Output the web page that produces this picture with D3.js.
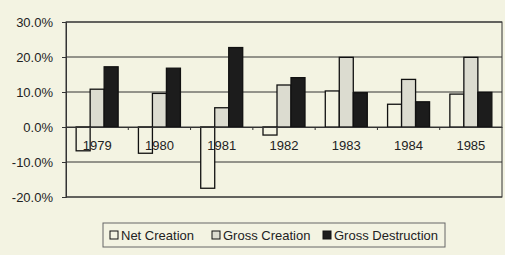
<!DOCTYPE html>
<html lang="en">
<head>
<meta charset="utf-8" />
<title>Job creation and destruction</title>
<script src="https://d3js.org/d3.v7.min.js"></script>
<style>
  body { margin: 0; background: #f3f3e2; }
  svg { display: block; }
</style>
</head>
<body>
<svg></svg>
<script>
  let width = 505,
      height = 255;

  // data
  var years = ["1979", "1980", "1981", "1982", "1983", "1984", "1985"];
  var netCreation = [-6.8, -7.5, -17.5, -2.3, 10.3, 6.5, 9.4];
  var grossCreation = [10.8, 9.6, 5.5, 12.0, 19.9, 13.6, 19.9];
  var grossDestruction = [17.2, 16.8, 22.7, 14.1, 9.8, 7.2, 9.9];
  var yTicks = [30, 20, 10, 0, -10, -20];
  var seriesNames = ["Net Creation", "Gross Creation", "Gross Destruction"];
  var seriesFill = ["#f3f3e2", "#dcdcd0", "#1c1c1c"];

  let series = [netCreation, grossCreation, grossDestruction];

  let svg = d3.select("svg").attr("width", width).attr("height", height);
  svg.append("rect").attr("width", width).attr("height", height).attr("fill", "#f3f3e2");

  let plotLeft = 66, plotRight = 502, plotTop = 22, plotBottom = 197;

  let x = d3.scaleBand().domain(years).range([plotLeft, plotRight]);
  let xs = d3.scaleBand().domain(d3.range(3)).range([0, 42]);
  let y = d3.scaleLinear().domain([-20, 30]).range([plotBottom, plotTop]);

  // gridlines
  svg.append("g")
    .selectAll("line")
    .data(yTicks)
    .enter()
    .append("line")
    .attr("x1", plotLeft).attr("x2", plotRight)
    .attr("y1", d => y(d)).attr("y2", d => y(d))
    .attr("stroke", "#333")
    .attr("stroke-width", 1);

  // plot frame
  svg.append("rect")
    .attr("x", plotLeft).attr("y", plotTop)
    .attr("width", plotRight - plotLeft).attr("height", plotBottom - plotTop)
    .attr("fill", "none")
    .attr("stroke", "#333");

  // y axis
  let yAxis = svg.append("g")
    .attr("transform", "translate(" + plotLeft + ",0)")
    .call(d3.axisLeft(y).tickValues(yTicks).tickSize(4).tickFormat(d => d.toFixed(1) + "%"));
  yAxis.select(".domain").attr("stroke", "#333");
  yAxis.selectAll(".tick line").attr("stroke", "#333");
  yAxis.selectAll("text")
    .attr("font-family", "Liberation Sans, Arial, sans-serif")
    .attr("font-size", 13)
    .attr("fill", "#222")
    .attr("x", -13);

  // bars
  let groups = svg.append("g")
    .selectAll("g")
    .data(years)
    .enter()
    .append("g")
    .attr("transform", d => "translate(" + (x(d) + (x.bandwidth() - 42) / 2) + ",0)");

  groups.selectAll("rect")
    .data((d, i) => series.map((s, k) => ({ k: k, v: s[i] })))
    .enter()
    .append("rect")
    .attr("x", d => xs(d.k))
    .attr("width", xs.bandwidth())
    .attr("y", d => y(Math.max(0, d.v)))
    .attr("height", d => Math.abs(y(d.v) - y(0)))
    .attr("fill", (d) => seriesFill[d.k])
    .attr("stroke", "#111")
    .attr("stroke-width", 1.3);

  // x axis at zero
  let xAxis = svg.append("g")
    .attr("transform", "translate(0," + y(0) + ")")
    .call(d3.axisBottom(x).tickSize(0).tickPadding(14));
  xAxis.select(".domain").attr("stroke", "#333");
  xAxis.selectAll("text")
    .attr("font-family", "Liberation Sans, Arial, sans-serif")
    .attr("font-size", 13)
    .attr("fill", "#222");
  // small ticks between categories
  svg.append("g")
    .selectAll("line")
    .data(years.slice(1))
    .enter()
    .append("line")
    .attr("x1", d => x(d)).attr("x2", d => x(d))
    .attr("y1", y(0)).attr("y2", y(0) + 3)
    .attr("stroke", "#333");

  // legend
  let legend = svg.append("g").attr("transform", "translate(103,223)");
  legend.append("rect")
    .attr("width", 342).attr("height", 24)
    .attr("fill", "#f3f3e2")
    .attr("stroke", "#666");
  let lx = [7, 109, 220];
  seriesNames.forEach((name, i) => {
    legend.append("rect")
      .attr("x", lx[i]).attr("y", 8)
      .attr("width", 8).attr("height", 8)
      .attr("fill", seriesFill[i])
      .attr("stroke", "#111");
    legend.append("text")
      .attr("x", lx[i] + 11).attr("y", 17)
      .attr("font-family", "Liberation Sans, Arial, sans-serif")
      .attr("font-size", 13)
      .attr("fill", "#222")
      .text(name);
  });
</script>
</body>
</html>
